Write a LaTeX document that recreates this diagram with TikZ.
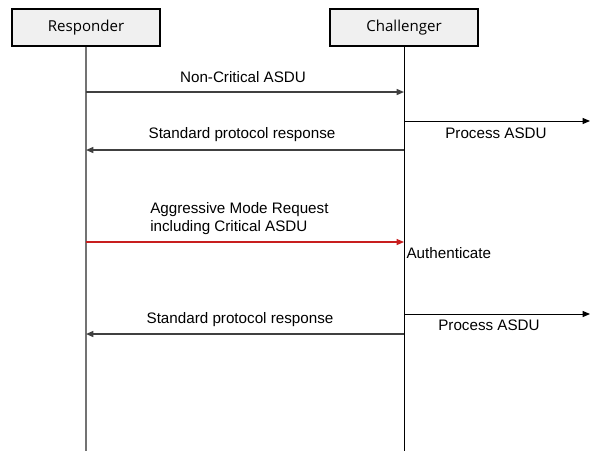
\documentclass[tikz,border=0pt]{standalone}
\usepackage{fontspec}
\setmainfont{Liberation Sans}
\newfontfamily\boxfont{Open Sans}
\usetikzlibrary{arrows.meta}

\begin{document}
\begin{tikzpicture}[x=0.75pt,y=-0.75pt,>={Triangle[length=5.5pt,width=4.5pt]},font=\fontsize{11.4}{13.5}\selectfont]
\useasboundingbox (0,0) rectangle (591,451);
\node[draw=black,fill=black!6,line width=0.8pt,minimum width=111pt,minimum height=27.75pt,font=\boxfont\fontsize{11.3}{13}\selectfont] (responder) at (86,27.5) {Responder};
\node[draw=black,fill=black!6,line width=0.8pt,minimum width=111pt,minimum height=27.75pt,font=\boxfont\fontsize{11.3}{13}\selectfont] (challenger) at (404,27.5) {Challenger};

\coordinate (rend) at (86,451);
\coordinate (cend) at (404,451);
\coordinate (r1) at (86,92);
\coordinate (c1) at (404,92);
\coordinate (c2) at (404,121);
\coordinate (o2) at (590,121);
\coordinate (c3) at (404,150);
\coordinate (r3) at (86,150);
\coordinate (r4) at (86,242);
\coordinate (c4) at (404,242);
\coordinate (c5) at (404,314);
\coordinate (o5) at (590,314);
\coordinate (c6) at (404,334);
\coordinate (r6) at (86,334);

\draw [draw=black!55,line width=1.2pt] (responder) -- (rend);
\draw [draw=black,line width=0.7pt] (challenger) -- (cend);

\draw [->,draw=black!75,line width=1pt] (r1) -- (c1);
\draw [->,draw=black,line width=0.7pt] (c2) -- (o2);
\draw [->,draw=black!75,line width=1pt] (c3) -- (r3);
\draw [->,draw={rgb,255:red,200;green,30;blue,30},line width=0.8pt] (r4) -- (c4);
\draw [->,draw=black,line width=0.7pt] (c5) -- (o5);
\draw [->,draw=black!75,line width=1pt] (c6) -- (r6);

\node (noncrit) at (243,77) {Non-Critical ASDU};
\node (process1) at (496,133) {Process ASDU};
\node (resp1) at (242,135) {Standard protocol response};
\node[anchor=west,align=left,inner sep=0pt] (aggr) at (150,219) {Aggressive Mode Request\\including Critical ASDU};
\node[anchor=west,inner sep=1pt] (auth) at (405,253) {Authenticate};
\node (resp2) at (240,320) {Standard protocol response};
\node (process2) at (489,325) {Process ASDU};
\end{tikzpicture}
\end{document}
